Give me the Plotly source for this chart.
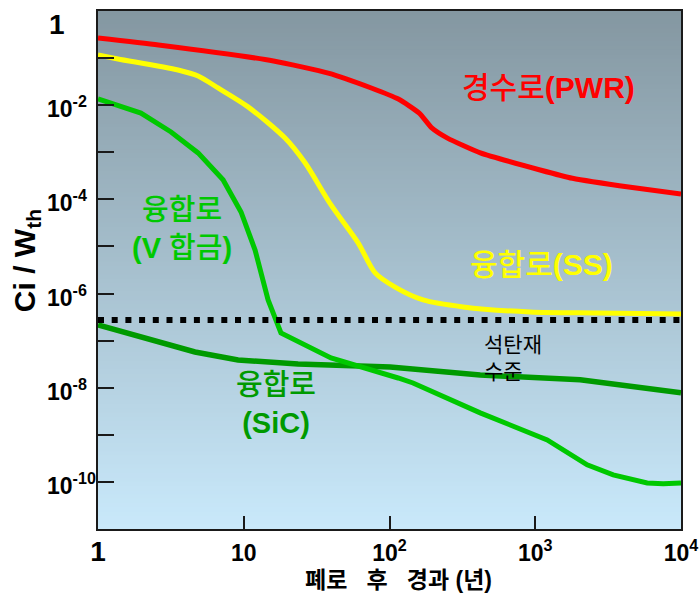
import plotly.graph_objects as go

# ---------------- data ----------------
pwr_x = [1.0, 2.6, 16, 38, 75, 115, 160, 195, 250, 420, 1080, 1800, 4500, 10000]
pwr_y = [0.267, 0.19, 0.087, 0.048, 0.0232, 0.0135, 0.0068, 0.0033, 0.0020, 0.00097,
         0.00042, 0.00028, 0.00018, 0.00013]

ss_x = [1.0, 1.37, 3.54, 4.86, 6.66, 10.7, 19.2, 26.4, 39.7, 60.9, 79.7, 110, 170, 320,
        920, 2660, 10000]
ss_y = [0.116, 0.096, 0.056, 0.0417, 0.0232, 0.0092, 0.0020, 0.00059, 7.6e-5, 1.19e-5,
        2.74e-6, 1.35e-6, 7.3e-7, 5.2e-7, 4.06e-7, 3.87e-7, 3.69e-7]

v_x = [1.0, 1.97, 3.17, 4.86, 7.21, 9.58, 11.96, 14.69, 18.0, 39.7, 114.6, 145, 419,
       1208, 2270, 3427, 5860, 7550, 10000]
v_y = [0.0136, 0.0068, 0.0027, 0.00097, 0.00026, 5.4e-5, 8.4e-6, 7.3e-7, 1.46e-7,
       4.3e-8, 1.61e-8, 1.26e-8, 2.92e-9, 7.8e-10, 2.3e-10, 1.41e-10, 9.5e-11, 9.1e-11,
       9.5e-11]

sic_x = [1.0, 4.63, 9.14, 23.6, 101, 419, 2033, 10000]
sic_y = [2.15e-7, 5.75e-8, 3.89e-8, 3.2e-8, 2.77e-8, 1.87e-8, 1.47e-8, 7.8e-9]

coal_x = [1.0, 10000]
coal_y = [2.75e-7, 2.75e-7]

x_tickvals = [1, 10, 100, 1000, 10000]
x_ticktext = ["<b><span style='font-size:28px'>1</span></b>", "<b>10</b>",
              "<b>10<sup>2</sup></b>", "<b>10<sup>3</sup></b>", "<b>10<sup>4</sup></b>"]
y_label_exps = [-2, -4, -6, -8, -10]

# ---------------- styles ----------------
LAT = "Liberation Sans, Arial, Noto Sans CJK KR"
RED = "#ff0000"
YEL = "#ffff00"
GRN = "#00c800"
DGRN = "#009a00"
AX = "#1a1a1a"

fig = go.Figure()

fig.add_trace(go.Scatter(x=pwr_x, y=pwr_y, mode="lines",
                         line=dict(color=RED, width=5, shape="spline", smoothing=0.5),
                         showlegend=False))
fig.add_trace(go.Scatter(x=ss_x, y=ss_y, mode="lines",
                         line=dict(color=YEL, width=5, shape="spline", smoothing=0.8),
                         showlegend=False))
fig.add_trace(go.Scatter(x=sic_x, y=sic_y, mode="lines", line=dict(color=DGRN, width=5.5),
                         showlegend=False))
fig.add_trace(go.Scatter(x=v_x, y=v_y, mode="lines", line=dict(color=GRN, width=5),
                         showlegend=False))
fig.add_trace(go.Scatter(x=coal_x, y=coal_y, mode="lines",
                         line=dict(color="#000000", width=6, dash="6px,7.7px"),
                         showlegend=False))

# background gradient
top = (132, 151, 161)
bot = (201, 233, 251)
N = 120
shapes = []
for i in range(N):
    t = (i + 0.5) / N
    c = tuple(round(bot[k] + (top[k] - bot[k]) * t) for k in range(3))
    shapes.append(dict(type="rect", xref="x domain", yref="y domain",
                       x0=0, x1=1, y0=i / N, y1=(i + 1) / N + 0.002,
                       fillcolor="rgb(%d,%d,%d)" % c, line=dict(width=0), layer="below"))

ann = []
# y tick labels (left aligned)
for e in y_label_exps:
    ann.append(dict(text="<b>10<sup>%d</sup></b>" % e, xref="paper", yref="y",
                    x=-0.0909, y=e, xanchor="left", yanchor="middle", yshift=-2,
                    showarrow=False, font=dict(family=LAT, size=23, color="#000")))
ann.append(dict(text="<b>1</b>", xref="paper", yref="y", x=-0.088, y=0,
                xanchor="left", yanchor="middle", yshift=-13, showarrow=False,
                font=dict(family=LAT, size=28, color="#000")))

# series labels
ann.append(dict(text="경수로<b>(PWR)</b>", xref="x", yref="y", x=3.089, y=-1.614,
                showarrow=False, font=dict(family=LAT, size=30, color=RED, weight=500)))
ann.append(dict(text="융합로<b>(SS)</b>", xref="x", yref="y", x=3.040, y=-5.393,
                showarrow=False, font=dict(family=LAT, size=30, color=YEL, weight=500)))
ann.append(dict(text="융합로<br><b>(V </b>합금<b>)</b>", xref="x", yref="y", x=0.577, y=-4.628,
                showarrow=False, font=dict(family=LAT, size=29, color=GRN, weight=500)))
ann.append(dict(text="융합로<br><b>(SiC)</b>", xref="x", yref="y", x=1.222, y=-8.344,
                showarrow=False, font=dict(family=LAT, size=29, color=DGRN, weight=500)))
ann.append(dict(text="석탄재<br>수준", xref="x", yref="y", x=2.636, y=-7.378,
                xanchor="left", align="left", showarrow=False,
                font=dict(family=LAT, size=21, color="#000")))

# axis titles
ann.append(dict(text="<b>폐로\u00a0\u00a0\u00a0후\u00a0\u00a0\u00a0경과\u00a0(년)</b>", xref="paper",
                yref="paper", x=0.516, y=-0.0927, xanchor="center", yanchor="middle",
                yshift=-3, showarrow=False, font=dict(family=LAT, size=23, color="#000")))
ann.append(dict(text="<b>Ci / W<sub>th</sub></b>", xref="paper", yref="paper",
                x=-0.1235, y=0.519, textangle=-90, xanchor="center", yanchor="middle",
                showarrow=False, font=dict(family=LAT, size=30, color="#000")))

fig.update_layout(
    width=699, height=593,
    margin=dict(l=98, r=18, t=11, b=64, autoexpand=False),
    paper_bgcolor="white",
    plot_bgcolor="rgb(166,192,206)",
    shapes=shapes,
    annotations=ann,
    showlegend=False,
)
fig.update_xaxes(type="log", range=[0, 4], tickvals=x_tickvals, ticktext=x_ticktext,
                 ticks="inside", ticklen=13, tickwidth=2, tickcolor=AX,
                 showline=True, linecolor=AX, linewidth=2, mirror=True,
                 showgrid=False, zeroline=False, ticklabelstandoff=2, automargin=False,
                 tickfont=dict(family=LAT, size=23, color="#000"))
fig.update_yaxes(type="log", range=[-11, 0], tickvals=[10.0 ** k for k in range(-11, 1)],
                 showticklabels=False, automargin=False,
                 ticks="inside", ticklen=16, tickwidth=2, tickcolor=AX,
                 showline=True, linecolor=AX, linewidth=2, mirror=True,
                 showgrid=False, zeroline=False)

fig.write_html("out.html", config={"displayModeBar": False},
               post_script="document.body.style.margin='0';document.body.style.padding='0';")
